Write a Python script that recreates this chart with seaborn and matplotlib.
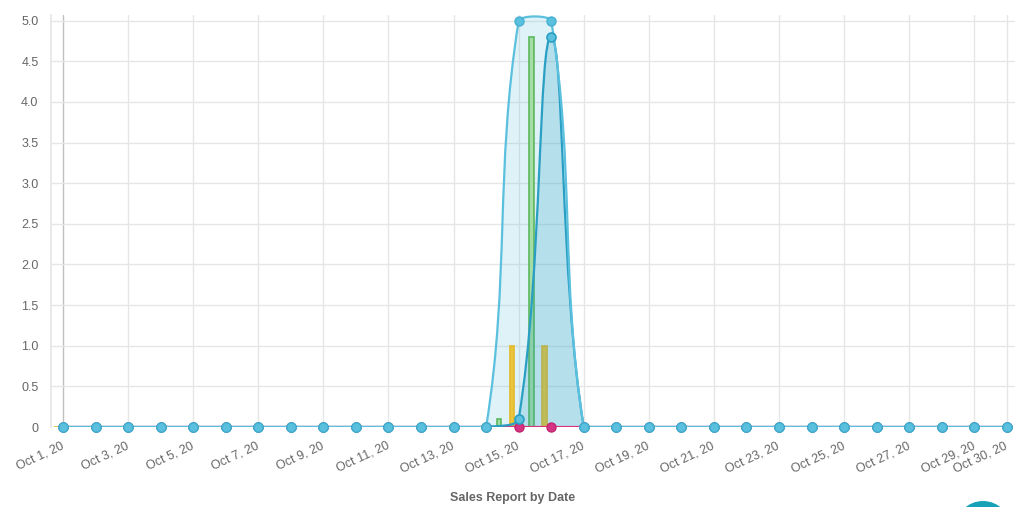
import numpy as np
import pandas as pd
import seaborn as sns
import matplotlib.pyplot as plt
from matplotlib.path import Path
from matplotlib.patches import PathPatch, Circle
from matplotlib.transforms import IdentityTransform

# days of October shown on the x axis
days = list(range(1, 31))
day_labels = ["Oct %d, 20" % d for d in days]
tick_days = [1, 3, 5, 7, 9, 11, 13, 15, 17, 19, 21, 23, 25, 27, 29, 30]

# line series
line_light = [0, 0, 0, 0, 0, 0, 0, 0, 0, 0, 0, 0, 0, 0, 5, 5, 0, 0, 0, 0, 0, 0, 0, 0, 0, 0, 0, 0, 0, 0]
line_dark = [0, 0, 0, 0, 0, 0, 0, 0, 0, 0, 0, 0, 0, 0, 0.1, 4.8, 0, 0, 0, 0, 0, 0, 0, 0, 0, 0, 0, 0, 0, 0]
line_pink = [0, 0, 0, 0, 0, 0, 0, 0, 0, 0, 0, 0, 0, 0, 0, 0, 0, 0, 0, 0, 0, 0, 0, 0, 0, 0, 0, 0, 0, 0]

# bar series
bar_green = [0, 0, 0, 0, 0, 0, 0, 0, 0, 0, 0, 0, 0, 0, 0.1, 4.8, 0, 0, 0, 0, 0, 0, 0, 0, 0, 0, 0, 0, 0, 0]
bar_yellow = [0, 0, 0, 0, 0, 0, 0, 0, 0, 0, 0, 0, 0, 0, 1, 1, 0, 0, 0, 0, 0, 0, 0, 0, 0, 0, 0, 0, 0, 0]

grey_txt = "#666666"
grid_col = "#e6e6e6"

sns.set_theme(style="white")
plt.rcParams["font.family"] = ["Liberation Sans", "DejaVu Sans"]

fig = plt.figure(figsize=(10.36, 5.07), dpi=100)
ax = fig.add_axes([51 / 1036, 80 / 507, 964 / 1036, 412 / 507])

# grouped bars (two more empty groups keep the chart.js slot layout)
bars = pd.DataFrame({
    "day": days * 2,
    "value": bar_green + bar_yellow,
    "set": ["green"] * len(days) + ["yellow"] * len(days),
})
bar_fill = {"green": "#a6dca6", "yellow": "#ebc53c", "c": "#cccccc", "d": "#cccccc"}
bar_edge = {"green": "#5cb85c", "yellow": "#e2b92c"}
sns.barplot(data=bars, x="day", y="value", hue="set",
            hue_order=["green", "yellow", "c", "d"], palette=bar_fill,
            native_scale=True, width=1.6, gap=0.65, dodge=True,
            errorbar=None, saturation=1, legend=False, ax=ax, zorder=2)
for cont, name in zip(ax.containers, ["green", "yellow"]):
    for p in cont:
        p.set_edgecolor(bar_edge[name])
        p.set_linewidth(1.2)

ax.set_xlim(0.63, 30.25)
ax.set_ylim(0, 5.07)


def smooth_path(xs, ys, tension=0.4):
    # chart.js style bezier, computed in pixel space
    pts = ax.transData.transform(np.column_stack([xs, ys]))
    (x_lo, y_lo), (x_hi, y_hi) = ax.transData.transform(
        [(ax.get_xlim()[0], 0), (ax.get_xlim()[1], ax.get_ylim()[1])])
    n = len(pts)
    cp_in = np.zeros_like(pts)
    cp_out = np.zeros_like(pts)
    for i in range(n):
        p0 = pts[max(i - 1, 0)]
        p1 = pts[i]
        p2 = pts[min(i + 1, n - 1)]
        d01 = np.hypot(*(p1 - p0))
        d12 = np.hypot(*(p2 - p1))
        tot = d01 + d12
        fa = tension * d01 / tot if tot else 0
        fb = tension * d12 / tot if tot else 0
        cp_in[i] = p1 - fa * (p2 - p0)
        cp_out[i] = p1 + fb * (p2 - p0)
    for cp in (cp_in, cp_out):
        cp[:, 0] = np.clip(cp[:, 0], x_lo, x_hi)
        cp[:, 1] = np.clip(cp[:, 1], y_lo, y_hi)
    verts = [pts[0]]
    codes = [Path.MOVETO]
    for i in range(n - 1):
        verts += [cp_out[i], cp_in[i + 1], pts[i + 1]]
        codes += [Path.CURVE4] * 3
    return ax.transData.inverted().transform(np.array(verts)), codes


def draw_series(ys, line_col, fill_col=None, fill_alpha=0.0, fill_z=1.5, z=3):
    verts, codes = smooth_path(days, ys)
    if fill_col is not None:
        fv = np.vstack([verts, [[days[-1], 0], [days[0], 0], [days[0], 0]]])
        fc = codes + [Path.LINETO, Path.LINETO, Path.CLOSEPOLY]
        ax.add_patch(PathPatch(Path(fv, fc), facecolor=fill_col, alpha=fill_alpha,
                               edgecolor="none", zorder=fill_z))
    ax.add_patch(PathPatch(Path(verts, codes), fill=False, edgecolor=line_col,
                           lw=1.6, zorder=z, capstyle="round", joinstyle="round"))


draw_series(line_pink, "#d63384", z=3)
draw_series(line_dark, "#2a9fc4", fill_col="#2a9fc4", fill_alpha=0.22, fill_z=2.5, z=3.2)
draw_series(line_light, "#5bc0de", fill_col="#5bc0de", fill_alpha=0.2, fill_z=1.5, z=3.4)

sns.scatterplot(x=days, y=line_pink, s=42, color="#d63384", edgecolor="#c2256f",
                linewidth=1, ax=ax, zorder=4, clip_on=False)
sns.scatterplot(x=days, y=line_dark, s=42, color="#5bc0de", edgecolor="#2a9fc4",
                linewidth=1.2, ax=ax, zorder=4.2, clip_on=False)
sns.scatterplot(x=days, y=line_light, s=42, color="#5bc0de", edgecolor="#46b0d3",
                linewidth=1, ax=ax, zorder=4.4, clip_on=False)

# axes cosmetics
ax.set_xlim(0.63, 30.25)
ax.set_ylim(0, 5.07)
ax.set_xticks(tick_days)
ax.set_xticklabels([day_labels[d - 1] for d in tick_days], rotation=25,
                   ha="right", va="center", rotation_mode="anchor")
yt = np.arange(0, 5.01, 0.5)
ax.set_yticks(yt)
ax.set_yticklabels(["0" if v == 0 else "%.1f" % v for v in yt])
ax.tick_params(axis="x", length=10, width=1, color=grid_col, pad=3,
               labelsize=9, labelcolor=grey_txt)
ax.tick_params(axis="y", length=6, width=1, color=grid_col, pad=3,
               labelsize=9, labelcolor=grey_txt)
ax.set_axisbelow(True)
ax.grid(True, color=grid_col, lw=1)
ax.get_xgridlines()[0].set_color("#c0c0c0")
for s in ["top", "right", "bottom"]:
    ax.spines[s].set_visible(False)
ax.spines["left"].set_color(grid_col)
ax.set_xlabel("")
ax.set_ylabel("")

fig.text(0.495, 1 - 498 / 507, "Sales Report by Date", ha="center", va="center",
         fontsize=9, fontweight="bold", color=grey_txt)

# floating round button peeking at the bottom edge
fig.add_artist(Circle((983, -22), 28, transform=IdentityTransform(),
                      facecolor="#17a2b8", edgecolor="none", clip_on=False))

fig.savefig("out.png", dpi=100)
